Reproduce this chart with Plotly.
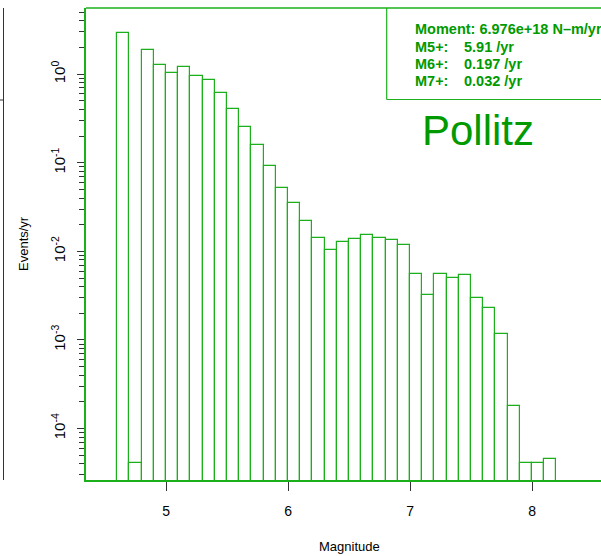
import plotly.graph_objects as go

# ---- data ----
bin_left = [4.6, 4.7, 4.8, 4.9, 5.0, 5.1, 5.2, 5.3, 5.4, 5.5, 5.6, 5.7, 5.8, 5.9,
            6.0, 6.1, 6.2, 6.3, 6.4, 6.5, 6.6, 6.7, 6.8, 6.9, 7.0, 7.1, 7.2, 7.3,
            7.4, 7.5, 7.6, 7.7, 7.8, 7.9, 8.0, 8.1]
rates = [2.90, 4.1e-5, 1.88, 1.27, 1.04, 1.20, 0.962, 0.861, 0.609, 0.402, 0.256,
         0.159, 0.092, 0.0524, 0.0349, 0.0222, 0.0141, 0.0103, 0.0128, 0.0139,
         0.0154, 0.0143, 0.0134, 0.0118, 0.00551, 0.00322, 0.00559, 0.00507,
         0.00544, 0.00294, 0.00231, 0.00118, 1.81e-4, 4.1e-5, 4.1e-5, 4.5e-5]
bin_width = 0.1
x_ticks = [5, 6, 7, 8]
y_tick_exp = [0, -1, -2, -3, -4]
minor_exp = [-5, -4, -3, -2, -1, 0]
minor_digits = [2, 3, 4, 5, 6, 7, 8, 9]
legend_labels = ["M5+:", "M6+:", "M7+:"]
legend_values = ["5.91 /yr", "0.197 /yr", "0.032 /yr"]
moment_text = "Moment: 6.976e+18 N\u2013m/yr"
panel_title = "Pollitz"

# ---- style ----
W, H = 601, 556
L, R, T, B = 86, 0, 8, 76
line_green = "#1BB01B"
text_green = "#009A00"
tick_col = "#333333"
font_family = "Liberation Sans, Arial, Helvetica, sans-serif"

pw, ph = W - L - R, H - T - B
def px_x(px):
    return (px - L) / pw
def px_y(py):
    return (H - B - py) / ph

centers = [b + bin_width / 2 for b in bin_left]
minor_vals = [d * 10 ** e for e in minor_exp for d in minor_digits]

fig = go.Figure()
fig.add_trace(go.Bar(
    x=centers, y=rates, width=bin_width,
    marker=dict(color="rgba(255,255,255,0)", line=dict(color=line_green, width=1.2)),
    hoverinfo="x+y", showlegend=False,
))

fig.update_layout(
    width=W, height=H,
    margin=dict(l=L, r=R, t=T, b=B),
    paper_bgcolor="white", plot_bgcolor="white",
    font=dict(family=font_family, size=13, color="black"),
    bargap=0,
    xaxis=dict(
        range=[4.344, 4.344 + pw / 122.0],
        tickvals=x_ticks, ticktext=[str(v) for v in x_ticks],
        ticks="outside", ticklen=9, tickcolor=tick_col, tickwidth=1,
        ticklabelstandoff=8,
        showline=True, linecolor=line_green, linewidth=1.5,
        showgrid=False, zeroline=False,
        tickfont=dict(size=14, color="black"),
    ),
    yaxis=dict(
        type="log",
        range=[-4.581, 0.748],
        tickvals=[10 ** e for e in y_tick_exp],
        ticktext=["10<sup>%d</sup>" % e for e in y_tick_exp],
        tickangle=-90,
        ticks="outside", ticklen=7, tickcolor=tick_col, tickwidth=1,
        ticklabelstandoff=6,
        minor=dict(ticks="outside", ticklen=5, tickcolor=tick_col, tickwidth=1,
                   tickmode="array", tickvals=minor_vals, showgrid=False),
        showline=True, linecolor=line_green, linewidth=1.5,
        showgrid=False, zeroline=False,
        tickfont=dict(size=15, color="black"),
    ),
)

shapes = []
shapes.append(dict(type="line", xref="paper", yref="paper", x0=0, x1=1.01, y0=1, y1=1,
                   line=dict(color=line_green, width=1.5)))
bx = px_x(386.7)
by = px_y(99.5)
shapes.append(dict(type="line", xref="paper", yref="paper", x0=bx, x1=bx, y0=by, y1=1,
                   line=dict(color=line_green, width=1.2)))
shapes.append(dict(type="line", xref="paper", yref="paper", x0=bx, x1=1.01, y0=by, y1=by,
                   line=dict(color=line_green, width=1.2)))
nx = px_x(3.5)
shapes.append(dict(type="line", xref="paper", yref="paper", x0=nx, x1=nx, y0=0, y1=1,
                   line=dict(color=tick_col, width=1)))
shapes.append(dict(type="line", xref="paper", yref="paper", x0=px_x(-1), x1=nx,
                   y0=px_y(100), y1=px_y(100), line=dict(color=tick_col, width=1)))
fig.update_layout(shapes=shapes)

ann = []
ann.append(dict(text="<b>%s</b>" % moment_text, xref="paper", yref="paper",
                x=px_x(413), y=px_y(29.3), xanchor="left", yanchor="middle",
                showarrow=False, font=dict(size=14.5, color=text_green)))
rows_y = [46.6, 63.9, 81.2]
for lab, val, yy in zip(legend_labels, legend_values, rows_y):
    ann.append(dict(text="<b>%s</b>" % lab, xref="paper", yref="paper",
                    x=px_x(413), y=px_y(yy), xanchor="left", yanchor="middle",
                    showarrow=False, font=dict(size=14.5, color=text_green)))
    ann.append(dict(text="<b>%s</b>" % val, xref="paper", yref="paper",
                    x=px_x(461.7), y=px_y(yy), xanchor="left", yanchor="middle",
                    showarrow=False, font=dict(size=14.5, color=text_green)))
ann.append(dict(text=panel_title, xref="paper", yref="paper",
                x=px_x(420), y=px_y(130), xanchor="left", yanchor="middle",
                showarrow=False, font=dict(size=42, color=text_green)))
ann.append(dict(text="Magnitude", xref="paper", yref="paper",
                x=px_x(349), y=px_y(546), xanchor="center", yanchor="middle",
                showarrow=False, font=dict(size=13, color="black")))
ann.append(dict(text="Events/yr", xref="paper", yref="paper",
                x=px_x(23), y=px_y(244), xanchor="center", yanchor="middle",
                textangle=-90, showarrow=False, font=dict(size=13, color="black")))
fig.update_layout(annotations=ann)

fig.write_html("out.html", config={"displayModeBar": False},
               post_script="document.body.style.margin='0';document.body.style.padding='0';")
